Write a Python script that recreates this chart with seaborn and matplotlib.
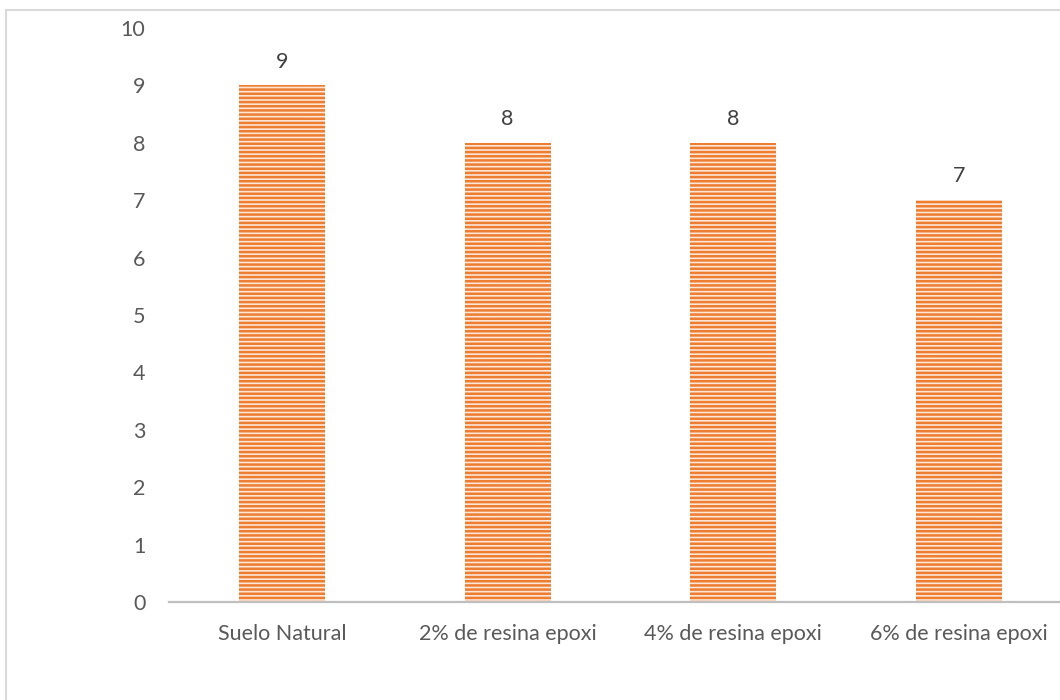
import matplotlib
matplotlib.use("Agg")
import matplotlib.pyplot as plt
from matplotlib.patches import Rectangle
import seaborn as sns
import pandas as pd

categories = ["Suelo Natural", "2% de resina epoxi", "4% de resina epoxi", "6% de resina epoxi"]
values = [9, 8, 8, 7]
y_ticks = [0, 1, 2, 3, 4, 5, 6, 7, 8, 9, 10]

sns.set_theme(style="white")
plt.rcParams["font.family"] = ["Lato", "DejaVu Sans"]
plt.rcParams["hatch.linewidth"] = 1.8

df = pd.DataFrame({"categoria": categories, "valor": values})

fig = plt.figure(figsize=(10.6, 7.0), dpi=100)
ax = fig.add_axes([169 / 1060, 1 - 602 / 700, 903 / 1060, (602 - 28) / 700])

sns.barplot(data=df, x="categoria", y="valor", ax=ax, width=0.38,
            color="#FCE3D2", saturation=1)

for p in ax.patches:
    p.set_facecolor("#FDE6D6")
    p.set_edgecolor("#ED7D31")
    p.set_hatch("----")
    p.set_linewidth(0)

ax.bar_label(ax.containers[0], labels=[str(v) for v in values], padding=10,
             fontsize=15.5, color="#404040")

ax.set_ylim(0, 10)
ax.set_xlim(-0.5, 3.5)
ax.set_yticks(y_ticks)
ax.set_yticklabels([str(t) for t in y_ticks])
ax.set_xlabel("")
ax.set_ylabel("")
ax.tick_params(axis="y", length=0, pad=17, labelsize=15.5, labelcolor="#595959")
ax.tick_params(axis="x", length=0, pad=16, labelsize=15.5, labelcolor="#595959")

for side in ["top", "right", "left"]:
    ax.spines[side].set_visible(False)
ax.spines["bottom"].set_color("#BFBFBF")
ax.spines["bottom"].set_linewidth(1.6)

# Outer chart frame
fig.patches.append(Rectangle((5.5 / 1060, -0.1), 1.2, 1.1 - 10.5 / 700,
                             transform=fig.transFigure, fill=False,
                             edgecolor="#D9D9D9", linewidth=1.5))

fig.savefig("out.png", dpi=100)
